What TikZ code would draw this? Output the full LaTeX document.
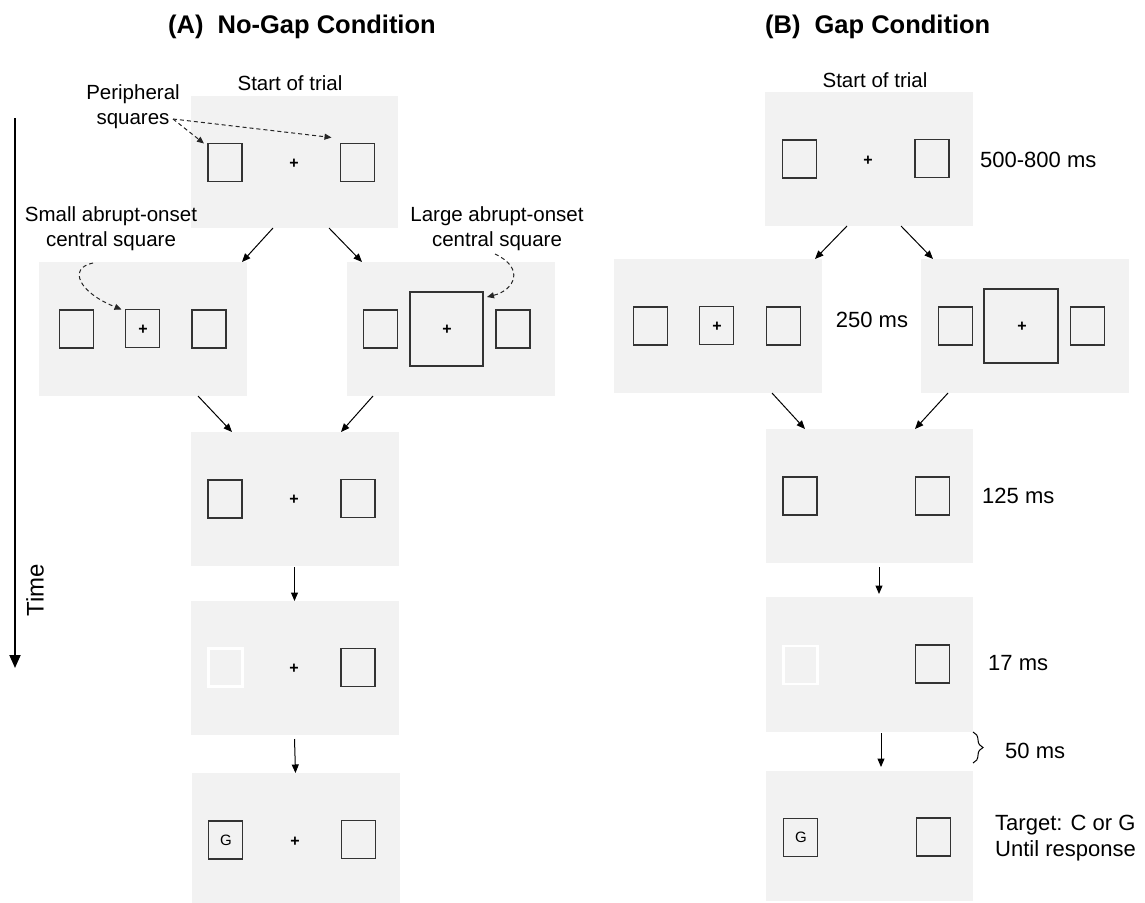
\documentclass[tikz,border=0pt]{standalone}
\usepackage{fontspec}
\setmainfont{Liberation Sans}
\usetikzlibrary{arrows.meta,calc,decorations.pathreplacing}
\definecolor{boxgray}{HTML}{F2F2F2}
\definecolor{sqgray}{HTML}{333333}
\begin{document}
\begin{tikzpicture}[x=1pt,y=-1pt,
  panel/.style={fill=boxgray, draw=none, minimum width=208pt, minimum height=134pt, inner sep=0pt, outer sep=0pt},
  sq/.style={draw=sqgray, line width=1.4pt, minimum width=34pt, minimum height=38pt, inner sep=0pt, outer sep=0pt},
  gone/.style={sq, draw=white, line width=2.6pt},
  bigsq/.style={sq, minimum width=73pt, minimum height=74pt},
  crs/.style={font=\fontsize{16}{16}\selectfont\bfseries, inner sep=0pt},
  letter/.style={font=\fontsize{15}{15}\selectfont, inner sep=0pt},
  flow/.style={-{Triangle[length=8.5pt,width=7pt]}, line width=1pt},
  cue/.style={-{Triangle[length=7pt,width=6pt]}, line width=1pt, dash pattern=on 4pt off 3pt, draw=black!85},
  lbl/.style={font=\fontsize{20.5}{25}\selectfont, align=center, inner sep=0pt},
  tlbl/.style={font=\fontsize{22}{26}\selectfont, align=left, inner sep=0pt, anchor=west},
  title/.style={font=\fontsize{25.5}{25.5}\selectfont\bfseries, inner sep=0pt, anchor=west}
]
\useasboundingbox (0,0) rectangle (1145,902);

% titles
\node[title] (ta) at (168,27) {(A)\hspace{0.55em}No-Gap Condition};
\node[title] (tb) at (765,27) {(B)\hspace{0.55em}Gap Condition};

% ---------------- Panel A ----------------
\node[lbl] (sa) at (290,83) {Start of trial};
\node[panel, minimum width=207pt, minimum height=132pt] (a1) at (294.5,162) {};
\node[sq] (a1l) at (225,162.5) {};
\node[sq] (a1r) at (357.5,162.5) {};
\node[crs] (a1x) at (294,163.5) {+};

\node[lbl] (per) at (133,107) {Peripheral\\squares};
\coordinate (pers) at (173,119);
\draw[cue] (pers) -- ($(a1l.north west)+(-4,0)$);
\draw[cue] (pers) -- ($(a1r.north west)+(-9,-6)$);

\node[lbl] (smlab) at (111,229) {Small abrupt-onset\\central square};
\node[lbl] (lglab) at (497,229) {Large abrupt-onset\\central square};

\node[panel] (a2l) at (143,329) {};
\node[sq] (a2l1) at (76.5,329) {};
\node[sq] (a2lc) at (142.5,328.5) {};
\node[sq] (a2l3) at (209,329) {};
\node[crs] (a2lx) at (143,330) {+};

\node[panel] (a2r) at (451,329) {};
\node[sq] (a2r1) at (380.5,329) {};
\node[bigsq] (a2rc) at (446.5,329) {};
\node[sq] (a2r3) at (513,329) {};
\node[crs] (a2rx) at (447,330) {+};

\coordinate (sms) at (93,263);
\draw[cue] (sms) .. controls (68,268) and (78,292) .. ($(a2lc.north west)+(-4,0)$);
\coordinate (lgs) at (495,254);
\draw[cue] (lgs) .. controls (525,268) and (515,290) .. ($(a2rc.north east)+(4,5)$);

\node[panel] (a3) at (294.5,499) {};
\node[sq] (a3l) at (225,499) {};
\node[sq] (a3r) at (358,498.5) {};
\node[crs] (a3x) at (294,500) {+};

\node[panel] (a4) at (294.5,668) {};
\node[gone] (a4l) at (225.5,667.5) {};
\node[sq] (a4r) at (358,667.5) {};
\node[crs] (a4x) at (294,668.5) {+};

\node[panel, minimum height=130pt] (a5) at (295.5,838) {};
\node[sq] (a5l) at (225.5,840) {};
\node[letter] (a5g) at (226,840) {G};
\node[sq] (a5r) at (358.5,839.5) {};
\node[crs] (a5x) at (295,842) {+};

\draw[flow] ([xshift=-21.5pt]a1.south) -- ([xshift=99pt]a2l.north);
\draw[flow] ([xshift=34.5pt]a1.south) -- ([xshift=-89pt]a2r.north);
\draw[flow] ([xshift=55pt]a2l.south) -- ([xshift=-62.5pt]a3.north);
\draw[flow] ([xshift=-78pt]a2r.south) -- ([xshift=46.5pt]a3.north);
\draw[flow] ([yshift=-1pt]a3.south) -- (a4.north);
\draw[flow] ([yshift=-4pt]a4.south) -- (a5.north);

% time axis
\coordinate (t0) at (15,118);
\coordinate (t1) at (15,668);
\draw[line width=1.8pt, -{Triangle[length=13pt,width=11pt]}] (t0) -- (t1);
\node[rotate=90, font=\fontsize{24}{24}\selectfont, inner sep=0pt] (time) at (35,590) {Time};

% ---------------- Panel B ----------------
\node[lbl] (sb) at (875,80) {Start of trial};
\node[panel] (b1) at (869,159) {};
\node[sq] (b1l) at (799.5,159) {};
\node[sq] (b1r) at (932,158.5) {};
\node[crs] (b1x) at (868,161) {+};
\node[tlbl] (t500) at (980,160) {500-800 ms};

\node[panel] (b2l) at (718,326) {};
\node[sq] (b2l1) at (650.5,326) {};
\node[sq] (b2lc) at (716.5,325.5) {};
\node[sq] (b2l3) at (783.5,326) {};
\node[crs] (b2lx) at (717,327) {+};
\node[font=\fontsize{22}{26}\selectfont, inner sep=0pt] (t250) at (872,320) {250 ms};

\node[panel] (b2r) at (1025,326) {};
\node[sq] (b2r1) at (955.5,326) {};
\node[bigsq, minimum width=74pt] (b2rc) at (1021,326) {};
\node[sq] (b2r3) at (1087.5,326) {};
\node[crs] (b2rx) at (1022,327) {+};

\node[panel, minimum width=207pt] (b3) at (869,496) {};
\node[sq] (b3l) at (800,496) {};
\node[sq] (b3r) at (932.5,496) {};
\node[tlbl] (t125) at (982,496) {125 ms};

\node[panel, minimum width=207pt, minimum height=135pt] (b4) at (869,664.5) {};
\node[gone] (b4l) at (800.5,665) {};
\node[sq] (b4r) at (932.5,664) {};
\node[tlbl] (t17) at (988,663) {17 ms};

\node[panel, minimum width=207pt, minimum height=130pt] (b5) at (869,836) {};
\node[sq] (b5l) at (800.5,837.5) {};
\node[letter] (b5g) at (801,837.5) {G};
\node[sq] (b5r) at (933.5,837) {};
\node[tlbl] (ttg) at (995,838) {Target: C or G\\Until response};

\draw[flow] ([xshift=-22pt]b1.south) -- ([xshift=97pt]b2l.north);
\draw[flow] ([xshift=32pt]b1.south) -- ([xshift=-92pt]b2r.north);
\draw[flow] ([xshift=54pt]b2l.south) -- ([xshift=-64pt]b3.north);
\draw[flow] ([xshift=-77pt]b2r.south) -- ([xshift=46pt]b3.north);
\draw[flow] ([xshift=10pt,yshift=-4pt]b3.south) -- ([xshift=10pt,yshift=3pt]b4.north);
\draw[flow] ([xshift=12pt,yshift=-1pt]b4.south) -- ([xshift=12pt,yshift=4pt]b5.north);

\coordinate (br0) at (973,732);
\coordinate (br1) at (973,763);
\draw[decorate, decoration={brace, amplitude=10pt}, line width=1pt] (br0) -- (br1);
\node[tlbl] (t50) at (1005,751) {50 ms};
\end{tikzpicture}
\end{document}
